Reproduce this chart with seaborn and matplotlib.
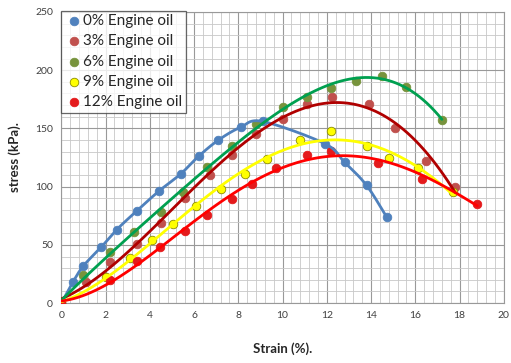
import numpy as np
import pandas as pd
import matplotlib
matplotlib.use("Agg")
import matplotlib.pyplot as plt
from matplotlib.ticker import MultipleLocator
import seaborn as sns

# Stress-strain measurements for each engine-oil content
labels = ["0% Engine oil", "3% Engine oil", "6% Engine oil", "9% Engine oil", "12% Engine oil"]

strain_0 = [0, 0.52, 1.0, 1.8, 2.5, 3.4, 4.4, 5.4, 6.2, 7.1, 8.1, 9.1, 11.9, 12.8, 13.8, 14.7]
stress_0 = [0, 18, 32, 48, 63, 79, 96, 111, 126, 140, 151, 156, 137, 121, 101, 74]

strain_3 = [0, 1.1, 2.2, 3.4, 4.5, 5.6, 6.7, 7.7, 8.8, 10.0, 11.1, 12.25, 13.9, 15.1, 16.5, 17.8]
stress_3 = [0, 18, 35, 51, 69, 90, 110, 127, 145, 158, 171, 177, 171, 150, 122, 100]

strain_6 = [0, 1.0, 2.2, 3.3, 4.5, 5.5, 6.6, 7.7, 8.8, 10.0, 11.1, 12.2, 13.3, 14.5, 15.6, 17.2]
stress_6 = [0, 24, 44, 61, 78, 95, 117, 135, 154, 168, 177, 185, 191, 195, 186, 157]

strain_9 = [0, 2.0, 3.1, 4.1, 5.05, 6.1, 7.2, 8.3, 9.3, 10.8, 12.2, 13.8, 14.8, 16.1, 17.7]
stress_9 = [0, 22, 39, 54, 68, 83, 98, 111, 124, 140, 148, 135, 125, 116, 95]

strain_12 = [0, 2.2, 3.4, 4.45, 5.6, 6.6, 7.7, 8.6, 9.7, 11.1, 12.2, 14.3, 16.3, 18.8]
stress_12 = [0, 20, 36, 48, 62, 76, 89, 102, 116, 127, 131, 120, 107, 85]

strains = [strain_0, strain_3, strain_6, strain_9, strain_12]
stresses = [stress_0, stress_3, stress_6, stress_9, stress_12]

point_colors = ["#4F81BD", "#C0504D", "#77933C", "#FFFF00", "#E41A1C"]
point_edges = ["#4F81BD", "#C0504D", "#77933C", "#8C8C00", "#E41A1C"]
line_colors = ["#4F81BD", "#B00000", "#00A050", "#FFFF00", "#FF0000"]
fit_orders = [None, 4, 4, 4, 4]   # None -> smoothed connecting line


def smooth_path(x, y, n=20, tension=0.5):
    """Catmull-Rom style smoothing through the measured points."""
    x = np.asarray(x, float)
    y = np.asarray(y, float)
    px = np.concatenate([[x[0]], x, [x[-1]]])
    py = np.concatenate([[y[0]], y, [y[-1]]])
    xs, ys = [], []
    t = np.linspace(0, 1, n, endpoint=False)
    for i in range(1, len(px) - 2):
        p0x, p1x, p2x, p3x = px[i - 1:i + 3]
        p0y, p1y, p2y, p3y = py[i - 1:i + 3]
        m1x, m2x = tension * (p2x - p0x), tension * (p3x - p1x)
        m1y, m2y = tension * (p2y - p0y), tension * (p3y - p1y)
        h00 = 2 * t**3 - 3 * t**2 + 1
        h10 = t**3 - 2 * t**2 + t
        h01 = -2 * t**3 + 3 * t**2
        h11 = t**3 - t**2
        xs.append(h00 * p1x + h10 * m1x + h01 * p2x + h11 * m2x)
        ys.append(h00 * p1y + h10 * m1y + h01 * p2y + h11 * m2y)
    xs.append([x[-1]])
    ys.append([y[-1]])
    return np.concatenate(xs), np.concatenate(ys)


df = pd.concat(
    [pd.DataFrame({"strain": s, "stress": t, "mix": lab})
     for s, t, lab in zip(strains, stresses, labels)],
    ignore_index=True,
)

sns.set_style("white")
plt.rcParams["font.family"] = ["Lato", "DejaVu Sans"]

fig = plt.figure(figsize=(5.11, 3.63), dpi=100)
ax = fig.add_axes([0.120, 0.165, 0.866, 0.802])

# measured points
for lab, pc, ec in zip(labels, point_colors, point_edges):
    sub = df[df["mix"] == lab]
    sns.scatterplot(data=sub, x="strain", y="stress", ax=ax, color=pc,
                    edgecolor=ec, linewidth=0.6, s=38, label=lab, zorder=3)

# trend curves
for lab, lc, k in zip(labels, line_colors, fit_orders):
    sub = df[df["mix"] == lab]
    if k is None:
        sx, sy = smooth_path(sub["strain"], sub["stress"])
        sns.lineplot(x=sx, y=sy, ax=ax, sort=False, color=lc, lw=2.0,
                     zorder=4, legend=False)
    else:
        sns.regplot(data=sub, x="strain", y="stress", ax=ax, scatter=False,
                    order=k, ci=None, truncate=True,
                    line_kws=dict(color=lc, lw=2.0, zorder=4))

ax.set_xlim(0, 20)
ax.set_ylim(0, 250)
ax.xaxis.set_major_locator(MultipleLocator(2))
ax.xaxis.set_minor_locator(MultipleLocator(0.4))
ax.yaxis.set_major_locator(MultipleLocator(50))
ax.yaxis.set_minor_locator(MultipleLocator(10))
ax.grid(which="major", color="#999999", lw=0.8)
ax.grid(which="minor", color="#C8C8C8", lw=0.6)
ax.set_axisbelow(True)
ax.tick_params(which="both", length=0, labelsize=7.5, colors="#404040", pad=6)
for sp in ax.spines.values():
    sp.set_color("#999999")
    sp.set_linewidth(0.8)

ax.set_xlabel("Strain (%).", fontsize=9.5, fontweight="bold", labelpad=16)
ax.set_ylabel("stress (kPa).", fontsize=9.5, fontweight="bold", labelpad=10)

leg = ax.legend(loc="upper left", bbox_to_anchor=(0.0, 1.005), fontsize=11,
                frameon=True, fancybox=False, edgecolor="#404040",
                handletextpad=0.0, labelspacing=0.4, borderpad=0.25,
                borderaxespad=0.0, handlelength=1.2, markerscale=1.0)
leg.get_frame().set_linewidth(0.9)
leg.set_zorder(10)

fig.savefig("out.png", dpi=100)
